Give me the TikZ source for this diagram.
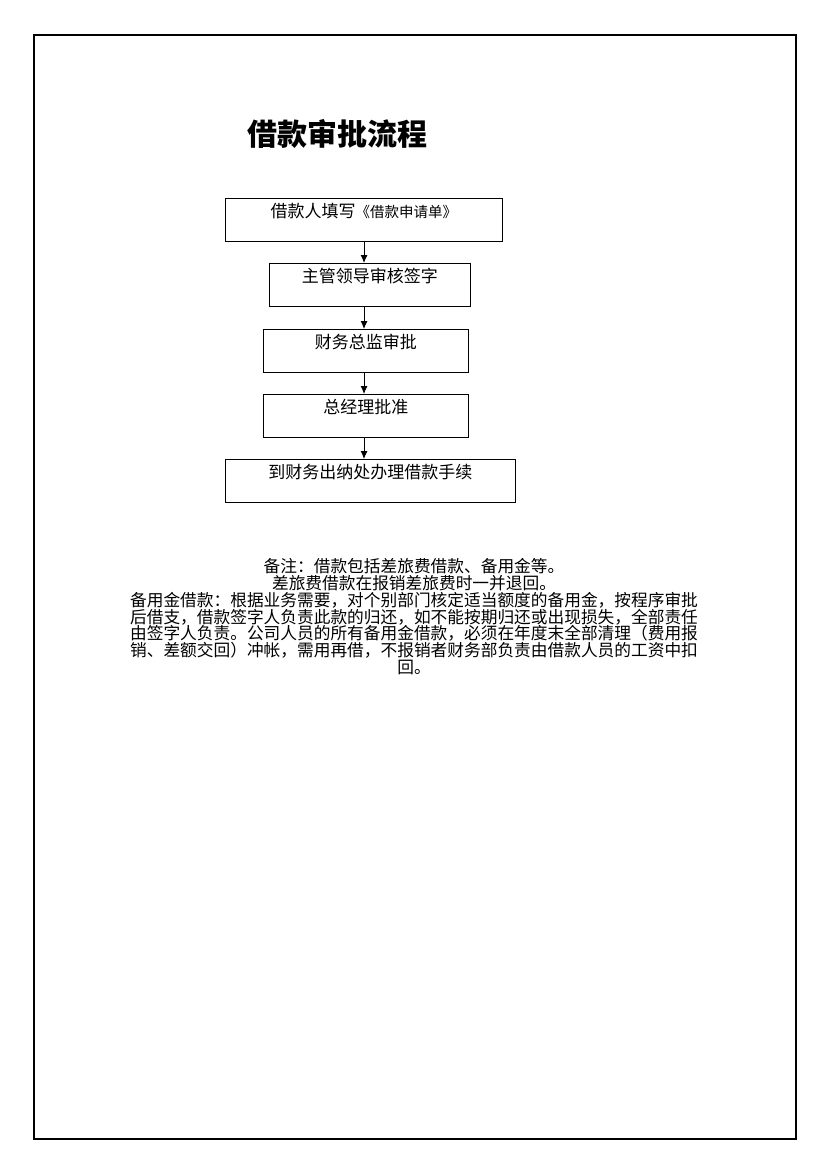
\documentclass[tikz,border=0pt]{standalone}
\usepackage{fontspec}
\setmainfont{Noto Sans CJK SC}
\newfontfamily\cjk{Noto Sans CJK SC}
\usetikzlibrary{arrows.meta}
\tikzset{
  stepbox/.style={draw=black, line width=0.9pt, anchor=north west, inner sep=0pt,
    text height=19pt, text depth=24pt, font=\cjk\fontsize{17}{17}\selectfont},
  flow/.style={draw=black, line width=0.9pt, -{Latex[length=8pt,width=7pt]}},
  frame/.style={draw=black, line width=2pt}
}
\begin{document}
\begin{tikzpicture}[x=1pt,y=-1pt]
\useasboundingbox (0,0) rectangle (830,1174);
\draw[frame] (34,35) rectangle (796,1139);
\node[anchor=base west, inner sep=0pt, font=\cjk\bfseries\fontsize{30}{32}\selectfont] (title) at (247,146) {借款审批流程};
\node[stepbox, minimum width=277pt] (b1) at (225,198) {借款人填写{\fontsize{14.5}{17}\selectfont《借款申请单》}};
\node[stepbox, minimum width=201pt] (b2) at (269,263) {主管领导审核签字};
\node[stepbox, minimum width=205pt] (b3) at (263,329) {财务总监审批};
\node[stepbox, minimum width=205pt] (b4) at (263,394) {总经理批准};
\node[stepbox, minimum width=290pt] (b5) at (225,459) {到财务出纳处办理借款手续};
\coordinate (ax) at (364,0);
\draw[flow] (ax |- b1.south) -- (ax |- b2.north);
\draw[flow] (ax |- b2.south) -- (ax |- b3.north);
\draw[flow] (ax |- b3.south) -- (ax |- b4.north);
\draw[flow] (ax |- b4.south) -- (ax |- b5.north);
\node[anchor=north, inner sep=0pt, align=center, font=\cjk\fontsize{16.7}{16.9}\selectfont] (note) at (414,558) {备注：借款包括差旅费借款、备用金等。\\
差旅费借款在报销差旅费时一并退回。\\
备用金借款：根据业务需要，对个别部门核定适当额度的备用金，按程序审批\\
后借支，借款签字人负责此款的归还，如不能按期归还或出现损失，全部责任\\
由签字人负责。公司人员的所有备用金借款，必须在年度末全部清理（费用报\\
销、差额交回）冲帐，需用再借，不报销者财务部负责由借款人员的工资中扣\\
回。};
\end{tikzpicture}
\end{document}
